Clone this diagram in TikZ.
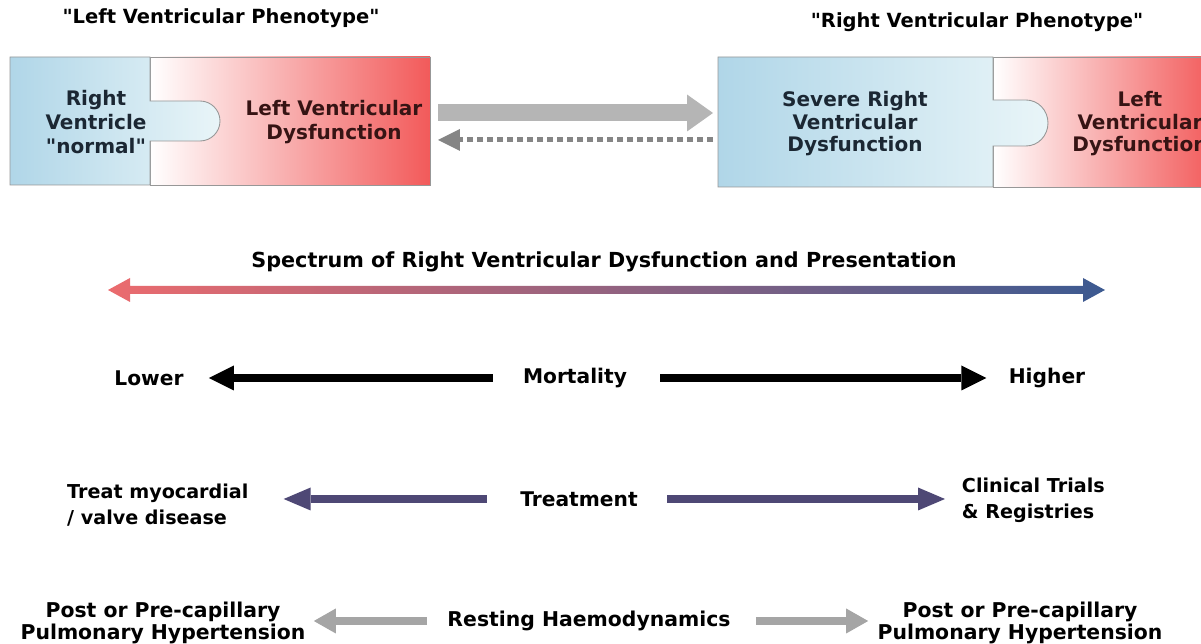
\documentclass[tikz,border=0pt]{standalone}
\usepackage{fontspec}
\setmainfont{DejaVu Sans}[Ligatures=TeXOff]
\usepackage{tikz}
\usetikzlibrary{positioning,arrows.meta,calc}
\definecolor{cazulc}{HTML}{B0D6E8}
\definecolor{cazulb}{HTML}{E9F5F8}
\definecolor{crojo}{HTML}{F25A5A}
\definecolor{cborde}{HTML}{979797}
\definecolor{ctazul}{HTML}{1B2733}
\definecolor{ctrojo}{HTML}{361414}
\definecolor{cgrisc}{HTML}{B5B5B5}
\definecolor{cgriso}{HTML}{858585}
\definecolor{cespr}{HTML}{EB6B6E}
\definecolor{cespm}{HTML}{8A5F7C}
\definecolor{cespa}{HTML}{3C5A91}
\definecolor{cmorado}{HTML}{4E4875}
\definecolor{cgrism}{HTML}{A5A5A5}
\tikzset{
  titulo/.style={font=\bfseries\fontsize{11.1}{13}\selectfont, inner sep=0pt},
  txtazul/.style={font=\bfseries\fontsize{11.4}{13.6}\selectfont, text=ctazul,
    align=center, inner sep=0pt},
  txtrojo/.style={font=\bfseries\fontsize{11.4}{13.6}\selectfont, text=ctrojo,
    align=center, inner sep=0pt},
  pieza/.style={draw=cborde, line width=0.5pt},
  etiq/.style={font=\bfseries\fontsize{11.5}{13}\selectfont, inner sep=0pt, align=center},
  etiqt/.style={font=\bfseries\fontsize{10.9}{14.7}\selectfont, inner sep=0pt, align=left},
  etiqr/.style={font=\bfseries\fontsize{11.6}{13}\selectfont, inner sep=0pt, align=center},
  flechagruesa/.style={-{Triangle[length=0.52cm, width=0.74cm, line width=0pt]},
    line width=0.34cm, draw=cgrisc},
  flechadisc/.style={-{Triangle[length=0.44cm, width=0.44cm, line width=0pt]},
    line width=0.1cm, draw=cgriso, dash pattern=on 0.12cm off 0.08cm},
  flechanegra/.style={-{Triangle[length=0.5cm, width=0.5cm, line width=0pt]},
    line width=0.16cm, draw=black},
  flechamorada/.style={-{Triangle[length=0.54cm, width=0.46cm, line width=0pt]},
    line width=0.16cm, draw=cmorado},
  flechagris/.style={-{Triangle[length=0.44cm, width=0.5cm, line width=0pt]},
    line width=0.16cm, draw=cgrism},
}

\begin{document}
\begin{tikzpicture}[x=0.02cm, y=-0.02cm]
  \useasboundingbox (0,0) rectangle (1201,644);
  \clip (0,0) rectangle (1201,644);

  % fenotipo ventricular izquierdo
  \node[titulo] (titI) at (221,18) {"Left Ventricular Phenotype"};
  \shadedraw[pieza, left color=white, right color=crojo] (150,57) rectangle (430,185);
  \shadedraw[pieza, left color=cazulc, right color=cazulb]
    (10,57) -- (150,57) -- (150,101) -- (200,101)
    arc[start angle=-90, end angle=90, radius=20] -- (150,141) -- (150,185)
    -- (10,185) -- cycle;
  \node[txtazul] (rvn) at (96,122) {Right\\Ventricle\\"normal"};
  \node[txtrojo] (lvd) at (334,122) {Left Ventricular\\Dysfunction};

  % fenotipo ventricular derecho
  \node[titulo] (titD) at (977,22) {"Right Ventricular Phenotype"};
  \shadedraw[pieza, left color=white, right color=crojo] (993,57) rectangle (1215,187);
  \shadedraw[pieza, left color=cazulc, right color=cazulb]
    (718,57) -- (993,57) -- (993,100) -- (1026,100)
    arc[start angle=-90, end angle=90, x radius=22, y radius=23] -- (993,146)
    -- (993,187) -- (718,187) -- cycle;
  \node[txtazul, font=\bfseries\fontsize{11.4}{12.8}\selectfont] (srvd) at (855,124)
    {Severe Right\\Ventricular\\Dysfunction};
  \node[txtrojo, font=\bfseries\fontsize{11.4}{12.8}\selectfont] (lvd2) at (1140,124)
    {Left\\Ventricular\\Dysfunction};

  % flechas entre fenotipos
  \coordinate (ida1) at (438,113);
  \coordinate (ida2) at (713,113);
  \coordinate (vuelta1) at (713,140);
  \coordinate (vuelta2) at (438,140);
  \draw[flechagruesa] (ida1) -- (ida2);
  \draw[flechadisc] (vuelta1) -- (vuelta2);

  % espectro
  \node[etiq, font=\bfseries\fontsize{11.8}{13}\selectfont] (espec) at (604,262)
    {Spectrum of Right Ventricular Dysfunction and Presentation};
  \shade[left color=cespr, middle color=cespm, right color=cespa]
    (108,290) -- (130,278) -- (130,286) -- (1083,286) -- (1083,278) -- (1105,290)
    -- (1083,302) -- (1083,294) -- (130,294) -- (130,302) -- cycle;

  % mortalidad
  \node[etiq, minimum width=2.08cm] (mort) at (575,378) {Mortality};
  \node[etiq, minimum width=1.36cm] (lower) at (149,378) {Lower};
  \node[etiq, minimum width=1.48cm] (higher) at (1047,378) {Higher};
  \draw[flechanegra, shorten <=0.6cm, shorten >=0.5cm] (mort) -- (lower);
  \draw[flechanegra, shorten <=0.66cm, shorten >=0.44cm] (mort) -- (higher);

  % tratamiento
  \node[etiq, minimum width=2.36cm] (trat) at (579,499) {Treatment};
  \node[etiqt, anchor=west, minimum width=3.82cm] (tmv) at (62,505)
    {Treat myocardial\\/ valve disease};
  \node[etiqt, anchor=west, minimum width=3.2cm] (ctr) at (953,500)
    {Clinical Trials\\\& Registries};
  \draw[flechamorada, shorten <=0.66cm, shorten >=0.6cm] (trat) -- (trat -| tmv.east);
  \draw[flechamorada, shorten <=0.58cm, shorten >=0.16cm] (trat) -- (trat -| ctr.west);

  % hemodinamica en reposo
  \node[etiqr, minimum width=5.58cm] (rest) at (589,621) {Resting Haemodynamics};
  \node[etiqr, minimum width=5.74cm] (pphI) at (163,623)
    {Post or Pre-capillary\\Pulmonary Hypertension};
  \node[etiqr, minimum width=5.74cm] (pphD) at (1020,623)
    {Post or Pre-capillary\\Pulmonary Hypertension};
  \draw[flechagris, shorten <=0.4cm, shorten >=0.14cm] (rest) -- (rest -| pphI.east);
  \draw[flechagris, shorten <=0.5cm, shorten >=0.16cm] (rest) -- (rest -| pphD.west);
\end{tikzpicture}
\end{document}
